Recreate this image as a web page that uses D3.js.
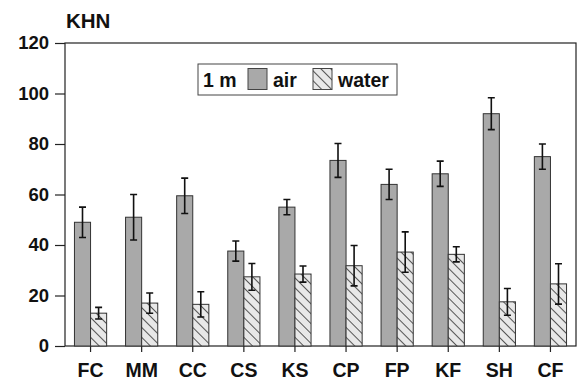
<!DOCTYPE html>
<html>
<head>
<meta charset="utf-8">
<script src="https://d3js.org/d3.v7.min.js"></script>
<style>
    body { margin: 0; background: #fff; }
    svg text { font-family: "Liberation Sans", Arial, sans-serif; font-weight: bold; fill: #111; }
</style>
</head>
<body>
<svg id="chart" width="579" height="380"></svg>
<script>
// data
var categories = ["FC", "MM", "CC", "CS", "KS", "CP", "FP", "KF", "SH", "CF"];
var airValues = [49, 51, 59.5, 37.6, 55, 73.5, 64, 68.2, 92, 75];
var airErrors = [6, 9, 7, 4, 3, 6.7, 6, 5, 6.3, 5];
var waterValues = [13, 17, 16.5, 27.4, 28.5, 31.8, 37.2, 36.3, 17.5, 24.6];
var waterErrors = [2.3, 4, 5, 5.3, 3.2, 8, 8, 3, 5.3, 8];
var yTicks = [0, 20, 40, 60, 80, 100, 120];
var seriesNames = ["air", "water"];

var svg = d3.select("#chart");
var _left = 65, _right = 576, _top = 43, _bottom = 346;

var x = d3.scaleBand()
    .domain(categories)
    .range([_left, _right])
    .paddingInner(0.37)
    .paddingOuter(0.185);

var sub = d3.scaleBand()
    .domain(seriesNames)
    .range([0, x.bandwidth()]);

var y = d3.scaleLinear().domain([0, 120]).range([_bottom, _top]);

// hatch for water bars (lines running top-left to bottom-right)
var defs = svg.append("defs");
defs.append("pattern")
    .attr("id", "hatch")
    .attr("patternUnits", "userSpaceOnUse")
    .attr("width", 7).attr("height", 7)
    .attr("patternTransform", "rotate(45)")
    .call(function(p) {
        p.append("rect").attr("width", 7).attr("height", 7).attr("fill", "#e8e8e8");
        p.append("line").attr("x1", 0).attr("y1", 0).attr("x2", 7).attr("y2", 0)
            .attr("stroke", "#444").attr("stroke-width", 1.8);
    });

var fills = { air: "#a9a9a9", water: "url(#hatch)" };

// frame
svg.append("rect")
    .attr("x", _left).attr("y", _top)
    .attr("width", _right - _left).attr("height", _bottom - _top)
    .attr("fill", "none").attr("stroke", "#222").attr("stroke-width", 1.2);

// y axis
var yAxis = d3.axisLeft(y).tickValues(yTicks).tickSize(10).tickPadding(6);
var gy = svg.append("g").attr("transform", "translate(" + _left + ",0)").call(yAxis);
gy.select(".domain").remove();
gy.selectAll("line").attr("stroke", "#222").attr("stroke-width", 1.2);
gy.selectAll("text").style("font-size", "18.5px");

// x axis
var xAxis = d3.axisBottom(x).tickSize(6).tickPadding(11);
var gx = svg.append("g").attr("transform", "translate(0," + _bottom + ")").call(xAxis);
gx.select(".domain").remove();
gx.selectAll("line").attr("stroke", "#222").attr("stroke-width", 1.2);
gx.selectAll("text").style("font-size", "19.5px");

// bars
var rows = categories.map(function(c, i) {
    return [
        { cat: c, s: "air", v: airValues[i], e: airErrors[i] },
        { cat: c, s: "water", v: waterValues[i], e: waterErrors[i] }
    ];
});
var flat = [].concat.apply([], rows);

var bars = svg.append("g").selectAll("g")
    .data(flat).enter().append("g")
    .attr("transform", function(d) { return "translate(" + (x(d.cat) + sub(d.s)) + ",0)"; });

bars.append("rect")
    .attr("y", function(d) { return y(d.v); })
    .attr("width", sub.bandwidth())
    .attr("height", function(d) { return y(0) - y(d.v); })
    .attr("fill", function(d) { return fills[d.s]; })
    .attr("stroke", "#333").attr("stroke-width", 1);

// error bars
var cx = sub.bandwidth() / 2, capW = 3.5;
bars.append("path")
    .attr("d", function(d) {
        var t = y(d.v + d.e), b = y(d.v - d.e);
        return "M" + cx + "," + t + "V" + b +
               "M" + (cx - capW) + "," + t + "H" + (cx + capW) +
               "M" + (cx - capW) + "," + b + "H" + (cx + capW);
    })
    .attr("fill", "none").attr("stroke", "#111").attr("stroke-width", 1.6);

// unit label
svg.append("text").attr("x", 66).attr("y", 28).style("font-size", "20.5px").text("KHN");

// legend
var lg = svg.append("g").attr("transform", "translate(198,64)");
lg.append("rect").attr("width", 199).attr("height", 31)
    .attr("fill", "#fff").attr("stroke", "#444").attr("stroke-width", 1);
lg.append("text").attr("x", 5).attr("y", 23).style("font-size", "19.5px").text("1 m");
var legX = { air: 50, water: 115 };
seriesNames.forEach(function(s) {
    lg.append("rect").attr("x", legX[s]).attr("y", 4.5).attr("width", 19).attr("height", 21)
        .attr("fill", fills[s]).attr("stroke", "#444").attr("stroke-width", 1);
    lg.append("text").attr("x", legX[s] + 25).attr("y", 23).style("font-size", "19.5px").text(s);
});
</script>
</body>
</html>
